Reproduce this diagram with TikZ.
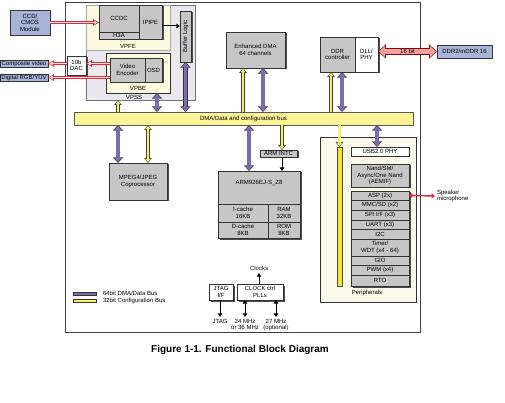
\documentclass[tikz,border=0pt]{standalone}
\usepackage{fontspec}
\setmainfont{Liberation Sans}
\usetikzlibrary{arrows.meta,shadows,positioning}

\definecolor{modgray}{RGB}{198,198,198}
\definecolor{extblue}{RGB}{168,180,218}
\definecolor{busyellow}{RGB}{250,244,150}
\definecolor{cfgyellow}{RGB}{246,240,100}
\definecolor{baryellow}{RGB}{242,230,40}
\definecolor{busviolet}{RGB}{125,107,176}
\definecolor{vpssgray}{RGB}{234,232,238}
\definecolor{paleyellow}{RGB}{252,250,222}
\definecolor{cream}{RGB}{251,249,234}
\definecolor{linkpink}{RGB}{242,162,162}
\definecolor{sigred}{RGB}{228,40,52}

\newcommand{\blkfont}{\fontsize{6}{6.6}\selectfont}

\tikzset{
  lbl/.style={font=\blkfont, align=center, inner sep=0pt, outer sep=0pt},
  blk/.style={lbl, draw=black!80, line width=0.5pt, anchor=north west},
  sz/.style 2 args={minimum width=#1pt, minimum height=#2pt},
  gbox/.style={blk, fill=modgray},
  wbox/.style={blk, fill=white},
  ebox/.style={blk, fill=extblue},
  shad/.style={drop shadow={shadow xshift=1.5pt, shadow yshift=-1.5pt, fill=black!70, opacity=1}},
  shadowc/.style={fill=black!70},
  % 64bit DMA/data bus
  dma/.style={draw=busviolet, line width=3.4pt,
    {Triangle[length=4.2pt,width=7.6pt]}-{Triangle[length=4.2pt,width=7.6pt]},
    shorten <=0.9pt, shorten >=0.9pt,
    preaction={draw=black!80, line width=4.6pt, shorten <=0pt, shorten >=0pt,
      arrows={Triangle[length=5.6pt,width=9.8pt]-Triangle[length=5.6pt,width=9.8pt]}}},
  % 32bit configuration bus
  cfg/.style={draw=cfgyellow, line width=2.2pt, -{Triangle[length=3.2pt,width=5pt]},
    shorten >=0.9pt,
    preaction={draw=black!75, line width=3.5pt, shorten >=0pt,
      arrows={-Triangle[length=4.8pt,width=7.2pt]}}},
  cfgd/.style={draw=cfgyellow, line width=2.2pt,
    {Triangle[length=3.2pt,width=5pt]}-{Triangle[length=3.2pt,width=5pt]},
    shorten <=0.9pt, shorten >=0.9pt,
    preaction={draw=black!75, line width=3.5pt, shorten <=0pt, shorten >=0pt,
      arrows={Triangle[length=4.8pt,width=7.2pt]-Triangle[length=4.8pt,width=7.2pt]}}},
  vid/.style={draw=white!55!pink, line width=0.8pt, -{Triangle[length=3.2pt,width=3.4pt]},
    shorten >=1.3pt,
    preaction={draw=sigred, line width=2.4pt, shorten >=0pt,
      arrows={-Triangle[length=6pt,width=6.4pt]}}},
  link/.style={draw=linkpink, line width=5.6pt,
    {Triangle[length=6pt,width=11pt]}-{Triangle[length=6pt,width=11pt]},
    shorten <=1.1pt, shorten >=1.1pt,
    preaction={draw=red!55!black, line width=7pt, shorten <=0pt, shorten >=0pt,
      arrows={Triangle[length=7.8pt,width=13.6pt]-Triangle[length=7.8pt,width=13.6pt]}}},
  sig/.style={draw=black, line width=1pt, -{Triangle[length=3.6pt,width=4.4pt]}},
  sigd/.style={draw=black, line width=1pt,
    {Triangle[length=3.6pt,width=4.4pt]}-{Triangle[length=3.6pt,width=4.4pt]}},
  spk/.style={draw=sigred, line width=1.4pt,
    {Triangle[length=3.4pt,width=5pt]}-{Triangle[length=3.4pt,width=5pt]}},
}

\begin{document}
\begin{tikzpicture}[x=1pt, y=-1pt]
  \useasboundingbox (0,0) rectangle (505,403);

  % --- chip outline and containers ---
  \node[blk, fill=white, draw=black!75, line width=1pt, sz={355}{329}] (chip) at (65,3) {};
  \node[blk, fill=vpssgray, draw=black!55, sz={109}{95}] (vpss) at (86,5) {};
  \node[lbl] (vpsslbl) at (134,97) {VPSS};
  \node[blk, fill=paleyellow, draw=black!35, sz={84}{45}] (vpfe) at (86,5) {};
  \node[lbl] (vpfelbl) at (128,46) {VPFE};
  \node[blk, fill=paleyellow, sz={64}{40}] (vpbe) at (106,53) {};
  \node[lbl] (vpbelbl) at (138,88) {VPBE};
  \node[blk, fill=cream, sz={96}{165}] (periph) at (320,137) {};
  \node[lbl] (periphlbl) at (367,293) {Peripherals};

  % --- VPFE ---
  \fill[shadowc] (100.5,6.5) rectangle (163.5,40.5);
  \node[gbox, sz={40}{27}] (ccdc) at (99,5) {CCDC};
  \node[gbox, sz={40}{7}] (h3a) at (99,32) {H3A};
  \node[gbox, sz={23}{34}] (ipipe) at (139,5) {IPIPE};
  \node[gbox, shad, sz={11}{51}] (buf) at (180,11) {};
  \node[lbl, rotate=90] (buflbl) at (buf.center) {Buffer Logic};

  % --- VPBE ---
  \fill[shadowc] (111.5,59.5) rectangle (163.5,83.5);
  \node[gbox, sz={35}{24}] (venc) at (110,58) {Video\\Encoder};
  \node[gbox, sz={17}{24}] (osd) at (145,58) {OSD};
  \node[wbox, shad, sz={19}{19}] (dac) at (67,56) {10b\\DAC};

  % --- off-chip ---
  \node[ebox, sz={40}{25}] (ccd) at (10,10) {CCD/\\CMOS\\Module};
  \node[ebox, sz={48}{7}] (comp) at (0,60) {Composite video};
  \node[ebox, sz={48}{7}] (dig) at (0,74) {Digital RGB/YUV};
  \node[ebox, sz={55}{13}] (ddrext) at (437,45) {DDR2/mDDR 16};

  % --- bus ---
  \node[blk, fill=busyellow, draw=black!65, sz={339}{13}] (bus) at (74,112)
    {DMA/Data and configuration bus};

  % --- upper modules ---
  \node[gbox, shad, sz={59}{36}] (edma) at (226,32) {Enhanced DMA\\64 channels};
  \fill[shadowc] (321.5,38.5) rectangle (379.5,73.5);
  \node[gbox, sz={35}{35}] (ddrc) at (320,37) {DDR\\controller};
  \node[wbox, sz={23}{35}] (dll) at (355,37) {DLL/\\PHY};

  % --- lower modules ---
  \node[gbox, shad, sz={58}{37}] (mpeg) at (109,163) {MPEG4/JPEG\\Coprocessor};
  \node[gbox, shad, sz={37}{7}] (intc) at (260,150) {ARM INTC};
  \fill[shadowc] (219.5,172.5) rectangle (301.5,239.5);
  \node[gbox, sz={82}{33}] (arm) at (218,171) {};
  \node[lbl] (armlbl) at (259,183) {ARM926EJ-S\_Z8};
  \node[gbox, sz={50}{18}] (icache) at (218,204) {I-cache\\16KB};
  \node[gbox, sz={32}{18}] (ram) at (268,204) {RAM\\32KB};
  \node[gbox, sz={50}{16}] (dcache) at (218,222) {D-cache\\8KB};
  \node[gbox, sz={32}{16}] (rom) at (268,222) {ROM\\8KB};

  % --- peripherals ---
  \node[blk, fill=baryellow, draw=black!70, sz={5}{139}] (cfgbar) at (337,147) {};
  \node[wbox, sz={58}{9}] (usb) at (351,147) {USB2.0 PHY};
  \node[gbox, shad, sz={58}{23}] (aemif) at (351,164) {Nand/SM/\\Async/One Nand\\(AEMIF)};
  \fill[shadowc] (352.5,192.5) rectangle (410.5,287.5);
  \node[gbox, sz={58}{9}] (asp) at (351,191) {ASP (2x)};
  \node[gbox, sz={58}{10}, below=0pt of asp] (mmc) {MMC/SD (x2)};
  \node[gbox, sz={58}{10}, below=0pt of mmc] (spi) {SPI I/F (x3)};
  \node[gbox, sz={58}{9}, below=0pt of spi] (uart) {UART (x3)};
  \node[gbox, sz={58}{10}, below=0pt of uart] (itwoc) {I2C};
  \node[gbox, sz={58}{17}, below=0pt of itwoc] (timer) {Timer/\\WDT (x4 - 64)};
  \node[gbox, sz={58}{9}, below=0pt of timer] (gio) {GIO};
  \node[gbox, sz={58}{10}, below=0pt of gio] (pwm) {PWM (x4)};
  \node[gbox, sz={58}{11}, below=0pt of pwm] (rto) {RTO};
  \coordinate (spkr) at (435,196);
  \node[lbl, align=left, right=2pt of spkr] (spkrlbl) {Speaker\\microphone};

  % --- clocks and legend ---
  \node[wbox, shad, sz={24}{16}] (jtag) at (209,284) {JTAG\\I/F};
  \node[wbox, shad, sz={46}{16}] (clk) at (237,284) {CLOCK ctrl\\PLLs};
  \coordinate (clkout) at (259,273);
  \coordinate (jtagout) at (220,317);
  \coordinate (xtal) at (245,317);
  \coordinate (xtalopt) at (276,317);
  \node[blk, fill=busviolet, sz={23}{3}] (legdma) at (73,292) {};
  \node[lbl, right=7pt of legdma] (legdmatxt) {64bit DMA/Data Bus};
  \node[blk, fill=cfgyellow, sz={23}{3}] (legcfg) at (73,299) {};
  \node[lbl, right=7pt of legcfg] (legcfgtxt) {32bit Configuration Bus};

  % --- signal links ---
  \draw[vid] (ccd.east) -- (ccdc.west |- ccd.east);
  \draw[vid] (dac.west |- comp.east) -- (comp.east);
  \draw[vid] (venc.west |- comp.east) -- (dac.east |- comp.east);
  \draw[vid] (venc.west |- dig.east) -- (dig.east);
  \draw[sig] (ipipe.east |- 0,26) -- (buf.west |- 0,26);
  \draw[link] (dll.east |- ddrext.west) -- (ddrext.west) node[lbl, midway] (linklbl) {16 bit};
  \draw[spk] (asp.east) -- (spkr);

  % --- bus connections ---
  \draw[cfg] (bus.north -| 118,0) -- (vpss.south -| 118,0);
  \draw[dma] (vpbe.south -| 157,0) -- (bus.north -| 157,0);
  \draw[dma] (buf.south) -- (bus.north -| buf.south);
  \draw[cfg] (bus.north -| 243,0) -- (edma.south -| 243,0);
  \draw[dma] (edma.south -| 263,0) -- (bus.north -| 263,0);
  \draw[cfg] (bus.north -| 331,0) -- (ddrc.south -| 331,0);
  \draw[dma] (ddrc.south -| 342,0) -- (bus.north -| 342,0);
  \draw[dma] (bus.south -| 118,0) -- (mpeg.north -| 118,0);
  \draw[cfgd] (bus.south -| 148,0) -- (mpeg.north -| 148,0);
  \draw[dma] (bus.south -| 249,0) -- (arm.north -| 249,0);
  \draw[cfg] (bus.south -| 282,0) -- (intc.north -| 282,0);
  \draw[sig] (intc.south -| 282,0) -- (arm.north -| 282,0);
  \draw[cfg] (bus.south -| cfgbar.north) -- (cfgbar.north);
  \draw[dma] (bus.south -| 377,0) -- (usb.north -| 377,0);

  % --- clock pins ---
  \draw[sig] (clk.north -| clkout) -- (clkout) node[lbl, above=2pt] (clkslbl) {Clocks};
  \draw[sig] (jtag.south -| jtagout) -- (jtagout) node[lbl, below=2pt] (jtaglbl) {JTAG};
  \draw[sigd] (clk.south -| xtal) -- (xtal) node[lbl, below=2pt] (xtallbl) {24 MHz\\or 36 MHz};
  \draw[sigd] (clk.south -| xtalopt) -- (xtalopt) node[lbl, below=2pt] (xtaloptlbl) {27 MHz\\(optional)};

  \node[font=\bfseries\fontsize{10}{12}\selectfont, inner sep=0pt] (caption) at (240,350)
    {Figure 1-1. Functional Block Diagram};
\end{tikzpicture}
\end{document}
